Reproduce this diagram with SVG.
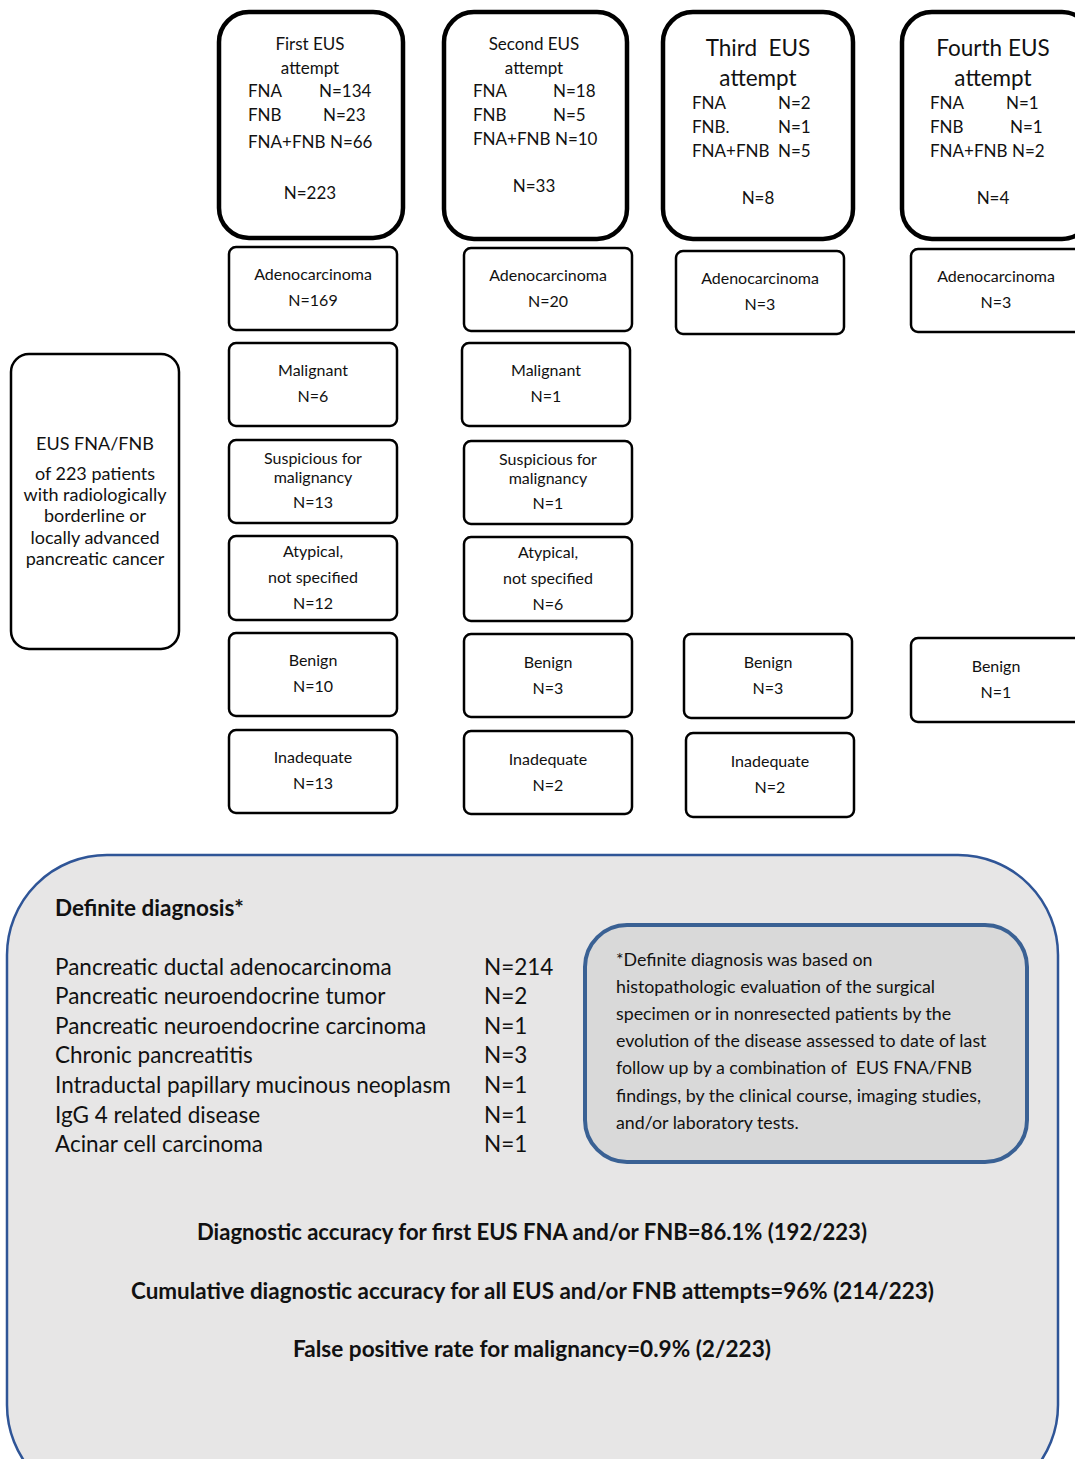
<svg xmlns="http://www.w3.org/2000/svg" width="1075" height="1459" viewBox="0 0 1075 1459">
<style>
text{font-family:Lato,"Open Sans","Liberation Sans",sans-serif;fill:#111;white-space:pre}
.hdr{fill:#fff;stroke:#000;stroke-width:4.5}
.cat{fill:#fff;stroke:#000;stroke-width:2.5}
.c{text-anchor:middle}
.h16{font-size:17px}
.h20{font-size:22.5px}
.s14{font-size:16px}
.l16{font-size:18px}
.list{font-size:22.5px}
.note{font-size:17.8px}
.bold{font-weight:bold}
</style>
<rect width="1075" height="1459" fill="#fff"/>

<g id="header1">
<rect class="hdr" x="219" y="12" width="184" height="226" rx="30"/>
<text class="h16 c" x="310" y="50">First EUS</text>
<text class="h16 c" x="310" y="74">attempt</text>
<text class="h16" x="248" y="97">FNA</text><text class="h16" x="319" y="97">N=134</text>
<text class="h16" x="248" y="121">FNB</text><text class="h16" x="323" y="121">N=23</text>
<text class="h16" x="248" y="148">FNA+FNB N=66</text>
<text class="h16 c" x="310" y="199">N=223</text>
</g>
<g id="header2">
<rect class="hdr" x="444" y="12" width="183" height="227" rx="30"/>
<text class="h16 c" x="534" y="50">Second EUS</text>
<text class="h16 c" x="534" y="74">attempt</text>
<text class="h16" x="473" y="97">FNA</text><text class="h16" x="553" y="97">N=18</text>
<text class="h16" x="473" y="121">FNB</text><text class="h16" x="553" y="121">N=5</text>
<text class="h16" x="473" y="145">FNA+FNB N=10</text>
<text class="h16 c" x="534" y="192">N=33</text>
</g>
<g id="header3">
<rect class="hdr" x="663" y="12" width="190" height="227" rx="30"/>
<text class="h20 c" x="758" y="56">Third  EUS</text>
<text class="h20 c" x="758" y="86">attempt</text>
<text class="h16" x="692" y="109">FNA</text><text class="h16" x="778" y="109">N=2</text>
<text class="h16" x="692" y="133">FNB.</text><text class="h16" x="778" y="133">N=1</text>
<text class="h16" x="692" y="157">FNA+FNB</text><text class="h16" x="778" y="157">N=5</text>
<text class="h16 c" x="758" y="204">N=8</text>
</g>
<g id="header4">
<rect class="hdr" x="902" y="12" width="190" height="227" rx="30"/>
<text class="h20 c" x="993" y="56">Fourth EUS</text>
<text class="h20 c" x="993" y="86">attempt</text>
<text class="h16" x="930" y="109">FNA</text><text class="h16" x="1006" y="109">N=1</text>
<text class="h16" x="930" y="133">FNB</text><text class="h16" x="1010" y="133">N=1</text>
<text class="h16" x="930" y="157">FNA+FNB N=2</text>
<text class="h16 c" x="993" y="204">N=4</text>
</g>

<g id="c1-adeno"><rect class="cat" x="229" y="247" width="168" height="83" rx="7"/>
<text class="s14 c" x="313" y="280">Adenocarcinoma</text><text class="s14 c" x="313" y="306">N=169</text></g>
<g id="c1-malig"><rect class="cat" x="229" y="343" width="168" height="83" rx="7"/>
<text class="s14 c" x="313" y="376">Malignant</text><text class="s14 c" x="313" y="402">N=6</text></g>
<g id="c1-susp"><rect class="cat" x="229" y="440" width="168" height="83" rx="7"/>
<text class="s14 c" x="313" y="464">Suspicious for</text><text class="s14 c" x="313" y="483">malignancy</text><text class="s14 c" x="313" y="508">N=13</text></g>
<g id="c1-atyp"><rect class="cat" x="229" y="536" width="168" height="84" rx="7"/>
<text class="s14 c" x="313" y="557">Atypical,</text><text class="s14 c" x="313" y="583">not specified</text><text class="s14 c" x="313" y="609">N=12</text></g>
<g id="c1-benign"><rect class="cat" x="229" y="633" width="168" height="83" rx="7"/>
<text class="s14 c" x="313" y="666">Benign</text><text class="s14 c" x="313" y="692">N=10</text></g>
<g id="c1-inad"><rect class="cat" x="229" y="730" width="168" height="83" rx="7"/>
<text class="s14 c" x="313" y="763">Inadequate</text><text class="s14 c" x="313" y="789">N=13</text></g>

<g id="c2-adeno"><rect class="cat" x="464" y="248" width="168" height="83" rx="7"/>
<text class="s14 c" x="548" y="281">Adenocarcinoma</text><text class="s14 c" x="548" y="307">N=20</text></g>
<g id="c2-malig"><rect class="cat" x="462" y="343" width="168" height="83" rx="7"/>
<text class="s14 c" x="546" y="376">Malignant</text><text class="s14 c" x="546" y="402">N=1</text></g>
<g id="c2-susp"><rect class="cat" x="464" y="441" width="168" height="83" rx="7"/>
<text class="s14 c" x="548" y="465">Suspicious for</text><text class="s14 c" x="548" y="484">malignancy</text><text class="s14 c" x="548" y="509">N=1</text></g>
<g id="c2-atyp"><rect class="cat" x="464" y="537" width="168" height="84" rx="7"/>
<text class="s14 c" x="548" y="558">Atypical,</text><text class="s14 c" x="548" y="584">not specified</text><text class="s14 c" x="548" y="610">N=6</text></g>
<g id="c2-benign"><rect class="cat" x="464" y="634" width="168" height="83" rx="7"/>
<text class="s14 c" x="548" y="668">Benign</text><text class="s14 c" x="548" y="694">N=3</text></g>
<g id="c2-inad"><rect class="cat" x="464" y="731" width="168" height="83" rx="7"/>
<text class="s14 c" x="548" y="765">Inadequate</text><text class="s14 c" x="548" y="791">N=2</text></g>

<g id="c3-adeno"><rect class="cat" x="676" y="251" width="168" height="83" rx="7"/>
<text class="s14 c" x="760" y="284">Adenocarcinoma</text><text class="s14 c" x="760" y="310">N=3</text></g>
<g id="c3-benign"><rect class="cat" x="684" y="634" width="168" height="84" rx="7"/>
<text class="s14 c" x="768" y="668">Benign</text><text class="s14 c" x="768" y="694">N=3</text></g>
<g id="c3-inad"><rect class="cat" x="686" y="733" width="168" height="84" rx="7"/>
<text class="s14 c" x="770" y="767">Inadequate</text><text class="s14 c" x="770" y="793">N=2</text></g>

<g id="c4-adeno"><rect class="cat" x="911" y="249" width="175" height="83" rx="7"/>
<text class="s14 c" x="996" y="282">Adenocarcinoma</text><text class="s14 c" x="996" y="308">N=3</text></g>
<g id="c4-benign"><rect class="cat" x="911" y="638" width="175" height="84" rx="7"/>
<text class="s14 c" x="996" y="672">Benign</text><text class="s14 c" x="996" y="698">N=1</text></g>

<g id="source">
<rect class="cat" x="11" y="354" width="168" height="295" rx="18"/>
<text class="l16 c" x="95" y="450">EUS FNA/FNB</text>
<text class="l16 c" x="95" y="480">of 223 patients</text>
<text class="l16 c" x="95" y="501">with radiologically</text>
<text class="l16 c" x="95" y="522">borderline or</text>
<text class="l16 c" x="95" y="544">locally advanced</text>
<text class="l16 c" x="95" y="565">pancreatic cancer</text>
</g>

<g id="connectors"></g>

<g id="summary">
<rect x="7" y="855" width="1051" height="650" rx="100" fill="#e7e6e6" stroke="#2f5597" stroke-width="2.5"/>
<text class="bold" x="55" y="916" font-size="22.5">Definite diagnosis*</text>
<g class="list">
<text x="55" y="975">Pancreatic ductal adenocarcinoma</text><text x="484" y="975">N=214</text>
<text x="55" y="1004">Pancreatic neuroendocrine tumor</text><text x="484" y="1004">N=2</text>
<text x="55" y="1034">Pancreatic neuroendocrine carcinoma</text><text x="484" y="1034">N=1</text>
<text x="55" y="1063">Chronic pancreatitis</text><text x="484" y="1063">N=3</text>
<text x="55" y="1093">Intraductal papillary mucinous neoplasm</text><text x="484" y="1093">N=1</text>
<text x="55" y="1123">IgG 4 related disease</text><text x="484" y="1123">N=1</text>
<text x="55" y="1152">Acinar cell carcinoma</text><text x="484" y="1152">N=1</text>
</g>
<rect x="585" y="925" width="442" height="237" rx="42" fill="#d9d9d9" stroke="#3a6194" stroke-width="4"/>
<g class="note">
<text x="616" y="966">*Definite diagnosis was based on</text>
<text x="616" y="993">histopathologic evaluation of the surgical</text>
<text x="616" y="1020">specimen or in nonresected patients by the</text>
<text x="616" y="1047">evolution of the disease assessed to date of last</text>
<text x="616" y="1074">follow up by a combination of  EUS FNA/FNB</text>
<text x="616" y="1102">findings, by the clinical course, imaging studies,</text>
<text x="616" y="1129">and/or laboratory tests.</text>
</g>
<text class="bold" x="197" y="1240" font-size="23" textLength="670" lengthAdjust="spacingAndGlyphs">Diagnostic accuracy for first EUS FNA and/or FNB=86.1% (192/223)</text>
<text class="bold" x="131" y="1299" font-size="23" textLength="803" lengthAdjust="spacingAndGlyphs">Cumulative diagnostic accuracy for all EUS and/or FNB attempts=96% (214/223)</text>
<text class="bold" x="293" y="1357" font-size="23" textLength="478" lengthAdjust="spacingAndGlyphs">False positive rate for malignancy=0.9% (2/223)</text>
</g>
</svg>
